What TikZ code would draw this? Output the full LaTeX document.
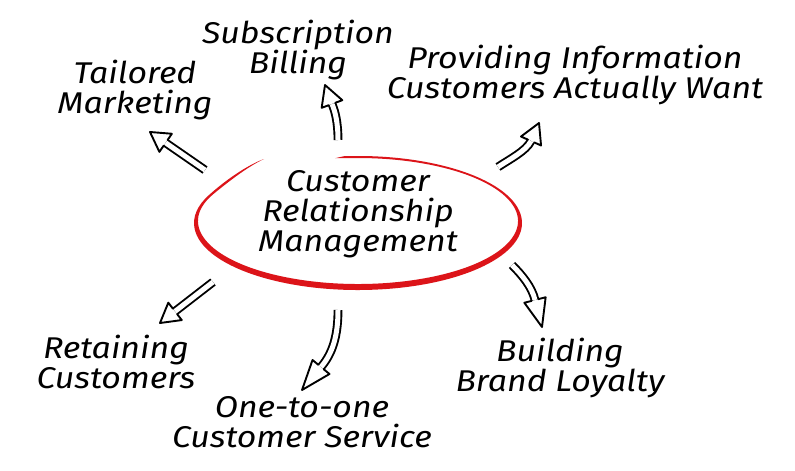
\documentclass[tikz,border=0pt]{standalone}
\usepackage{fontspec}
\setmainfont[FakeStretch=1.13]{Fira Sans}
\usetikzlibrary{calc}
\definecolor{crmred}{RGB}{220,20,25}
\tikzset{
  lbl/.style={font=\fontsize{30}{30}\selectfont\itshape, align=center, inner sep=0pt, text=black},
  shaft/.style={draw=black, line width=1.9pt, double=white, double distance=5pt},
  headline/.style={draw=black, line width=1.9pt, line join=round, line cap=round},
}
% hollow arrow head: base centre #1, tip #2
\newcommand{\hhead}[2]{%
  \draw[headline] ($(#1)!3.45pt!90:(#2)$) -- ($(#1)!11pt!90:(#2)$) -- (#2)
     -- ($(#1)!11pt!-90:(#2)$) -- ($(#1)!3.45pt!-90:(#2)$);}
\begin{document}
\begin{tikzpicture}[x=1pt,y=-1pt]
\useasboundingbox (0,0) rectangle (795,471);
\fill[white] (0,0) rectangle (795,471);

% red brush ellipse (open at the upper left)
\fill[crmred] (335,158.2) -- ($(358,223)+(-95:164 and 67)$)
  arc[start angle=-95, end angle=205, x radius=164, y radius=67]
  .. controls (228,178) and (249,164.5) .. (264,159)
  .. controls (249,166) and (231,179.5) .. ($(358,221)+(205:160 and 63)$)
  arc[start angle=205, end angle=-95, x radius=160, y radius=63] -- cycle;

% texts
\node[lbl] (crm) at (358,214) {Customer\\Relationship\\Management};
\node[lbl] (sub) at (298,50) {Subscription\\Billing};
\node[lbl] (tai) at (135,90) {Tailored\\Marketing};
\node[lbl] (pro) at (575,75) {Providing Information\\Customers Actually Want};
\node[lbl] (ret) at (116,362) {Retaining\\Customers};
\node[lbl] (one) at (302,422) {One-to-one\\Customer Service};
\node[lbl] (bui) at (560,368) {Building\\Brand Loyalty};

% arrow coordinates
\coordinate (t1) at (205,170); \coordinate (p1) at (150,132);
\coordinate (b1) at ($(p1)!19pt!(t1)$);
\coordinate (t2) at (338,140); \coordinate (b2) at (332,104); \coordinate (p2) at (325,85);
\coordinate (t3) at (498,167); \coordinate (b3) at (531,141); \coordinate (p3) at (539,123);
\coordinate (t4) at (213,282); \coordinate (p4) at (160,323);
\coordinate (b4) at ($(p4)!19pt!(t4)$);
\coordinate (t5) at (338,310); \coordinate (b5) at (321,367); \coordinate (p5) at (302,390);
\coordinate (t6) at (512,265); \coordinate (b6) at (535,300); \coordinate (p6) at (542,327);

% arrows
\draw[shaft] (t1) -- (b1); \hhead{b1}{p1}
\draw[shaft] (t2) .. controls (338,122) and (335,111) .. (b2); \hhead{b2}{p2}
\draw[shaft] (t3) .. controls (510,159) and (526,151) .. (b3); \hhead{b3}{p3}
\draw[shaft] (t4) -- (b4); \hhead{b4}{p4}
\draw[shaft] (t5) .. controls (338,335) and (333,353) .. (b5); \hhead{b5}{p5}
\draw[shaft] (t6) .. controls (522,275) and (532,287) .. (b6); \hhead{b6}{p6}
\end{tikzpicture}
\end{document}
